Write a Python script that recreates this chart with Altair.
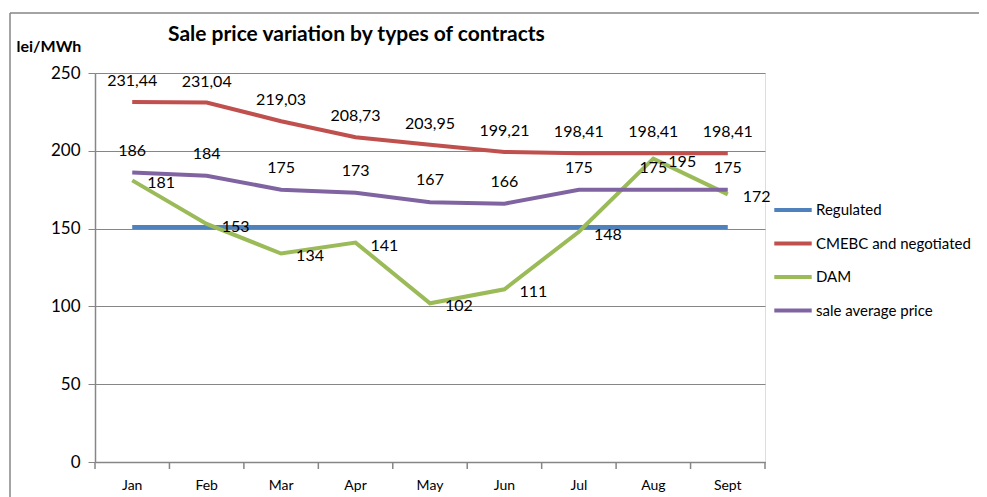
import altair as alt
import pandas as pd

months = ["Jan", "Feb", "Mar", "Apr", "May", "Jun", "Jul", "Aug", "Sept"]
series_names = ["Regulated", "CMEBC and negotiated", "DAM", "sale average price"]
regulated = [151, 151, 151, 151, 151, 151, 151, 151, 151]
cmebc = [231.44, 231.04, 219.03, 208.73, 203.95, 199.21, 198.41, 198.41, 198.41]
dam = [181, 153, 134, 141, 102, 111, 148, 195, 172]
average = [186, 184, 175, 173, 167, 166, 175, 175, 175]
colors = ["#4F81BD", "#C0504D", "#9BBB59", "#8064A2"]

rows = []
for name, vals in zip(series_names, [regulated, cmebc, dam, average]):
    for m, v in zip(months, vals):
        lab = f"{v:.2f}".replace(".", ",") if name == "CMEBC and negotiated" else str(int(v))
        rows.append({"month": m, "series": name, "value": v, "label": lab})
df = pd.DataFrame(rows)

FONT = "Lato"
GRAY = "#868686"

xscale = alt.Scale(paddingInner=0, paddingOuter=0)
yscale = alt.Scale(domain=[0, 250], nice=False, zero=True)

x_enc = alt.X("month:N", sort=months, scale=xscale,
              axis=alt.Axis(title=None, ticks=False, labelPadding=16, labelFontSize=14,
                            labelFont=FONT, labelColor="black", labelAngle=0,
                            domainColor=GRAY, domainWidth=1.5, grid=False))
y_enc = alt.Y("value:Q", scale=yscale,
              axis=alt.Axis(values=[0, 50, 100, 150, 200, 250], title="lei/MWh",
                            titleAngle=0, titleAlign="left", titleBaseline="middle",
                            titleX=-79, titleY=-27, titleFont=FONT, titleFontSize=16,
                            titleFontWeight="bold", titleColor="black",
                            labelFont=FONT, labelFontSize=17, labelColor="black",
                            labelPadding=8, tickSize=7, tickColor=GRAY,
                            domainColor=GRAY, domainWidth=1.5,
                            gridColor=GRAY, gridWidth=1.2))

base = alt.Chart(df)

lines = base.mark_line(strokeWidth=4).encode(
    x=x_enc,
    y=y_enc,
    color=alt.Color("series:N", sort=series_names,
                    scale=alt.Scale(domain=series_names, range=colors),
                    legend=alt.Legend(title=None, orient="none", legendX=677, legendY=116,
                                      symbolType="stroke", symbolSize=1400,
                                      symbolStrokeWidth=4, labelFont=FONT,
                                      labelFontSize=15, labelColor="black",
                                      rowPadding=4.5, labelOffset=2)),
    order=alt.Order("series:N"),
)

text_common = dict(font=FONT, fontSize=16, color="black", baseline="middle")
xt = alt.X("month:N", sort=months, scale=xscale)
yt = alt.Y("value:Q", scale=yscale)

red_lab = base.transform_filter(alt.datum.series == "CMEBC and negotiated").mark_text(
    dy=-21, align="center", **text_common).encode(x=xt, y=yt, text="label:N")
purple_lab = base.transform_filter(alt.datum.series == "sale average price").mark_text(
    dy=-22, align="center", **text_common).encode(x=xt, y=yt, text="label:N")
green_lab = base.transform_filter(alt.datum.series == "DAM").mark_text(
    dx=15, dy=3, align="left", **text_common).encode(x=xt, y=yt, text="label:N")

ticks = base.transform_filter(alt.datum.series == "Regulated").mark_rule(
    color=GRAY, strokeWidth=1.5).encode(
    x=alt.X("month:N", sort=months, scale=xscale, bandPosition=0),
    y=alt.value(389), y2=alt.value(396))
end_tick = base.transform_filter(
    (alt.datum.series == "Regulated") & (alt.datum.month == "Sept")).mark_rule(
    color=GRAY, strokeWidth=1.5).encode(
    x=alt.X("month:N", sort=months, scale=xscale, bandPosition=1),
    y=alt.value(389), y2=alt.value(396))

frame_top = base.transform_filter(
    (alt.datum.series == "Regulated") & (alt.datum.month == "Jan")).mark_rule(
    color=GRAY, strokeWidth=1.5).encode(
    x=alt.value(-85), x2=alt.value(900), y=alt.value(-60))
frame_left = base.transform_filter(
    (alt.datum.series == "Regulated") & (alt.datum.month == "Jan")).mark_rule(
    color=GRAY, strokeWidth=1.5).encode(
    x=alt.value(-85), y=alt.value(-60), y2=alt.value(430))

chart = alt.layer(frame_top, frame_left, lines, ticks, end_tick, red_lab, purple_lab, green_lab).properties(
    width=670, height=389,
    title=alt.TitleParams("Sale price variation by types of contracts", anchor="start",
                          frame="group", dx=73, font=FONT, fontSize=21,
                          fontWeight="bold", color="black", offset=-33),
    autosize=alt.AutoSizeParams(type="none"),
    padding={"left": 87, "top": 65, "right": 214, "bottom": 35},
).configure_view(stroke=None).configure(background="white")

chart.save("out.html", embed_options={"renderer": "svg", "actions": False})
